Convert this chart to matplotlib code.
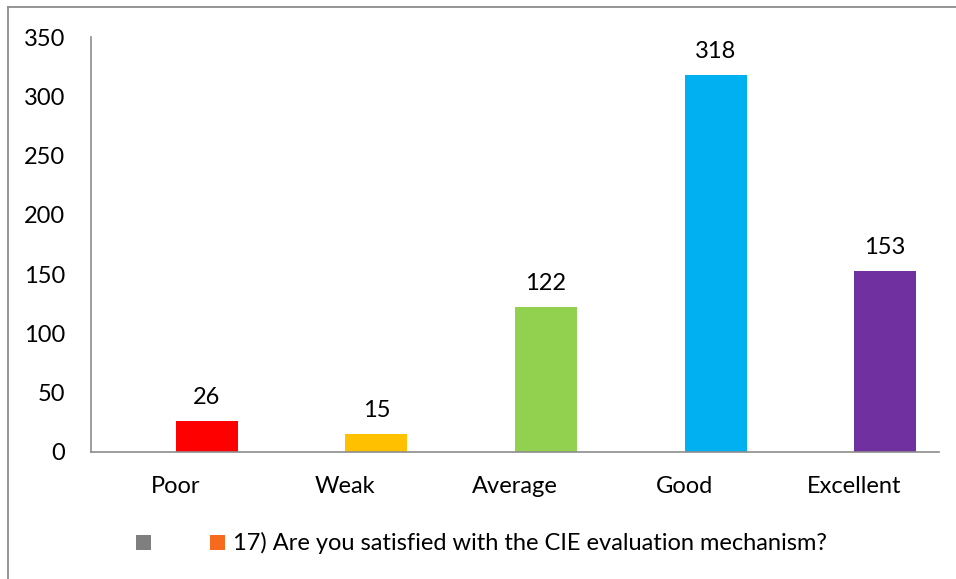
import matplotlib
matplotlib.use("Agg")
import matplotlib.pyplot as plt
from matplotlib.patches import Rectangle
from matplotlib.lines import Line2D

categories = ["Poor", "Weak", "Average", "Good", "Excellent"]
values = [26, 15, 122, 318, 153]
bar_colors = ["#FF0000", "#FFC000", "#92D050", "#00B0F0", "#7030A0"]
series_name = "17) Are you satisfied with the CIE evaluation mechanism?"
yticks = [0, 50, 100, 150, 200, 250, 300, 350]

W, H = 956, 579
plt.rcParams['font.family'] = ['Lato', 'DejaVu Sans']
FS = 17

fig = plt.figure(figsize=(W / 100, H / 100), dpi=100)
ax = fig.add_axes([91 / W, (H - 452) / H, (939 - 91) / W, (452 - 37) / H])

xs = list(range(len(categories)))
bw = 62 / 169.6
bars = ax.bar(xs, values, width=bw, align='edge', color=bar_colors, zorder=2)
for x, v in zip(xs, values):
    ax.annotate(str(v), (x + bw / 2, v), xytext=(0, 12.2), textcoords='offset points',
                ha='center', va='baseline', fontsize=FS, color='black')

ax.set_xlim(-0.5, len(categories) - 0.5)
ax.set_ylim(0, 350)
ax.set_yticks(yticks)
ax.set_xticks(xs)
ax.set_xticklabels(categories)
ax.tick_params(axis='both', length=0, labelsize=FS, colors='black')
ax.tick_params(axis='y', pad=18.5)
ax.tick_params(axis='x', pad=17)
for s in ['top', 'right']:
    ax.spines[s].set_visible(False)
for s in ['left', 'bottom']:
    ax.spines[s].set_color('#8C8C8C')
    ax.spines[s].set_linewidth(1.2)

# legend
def fx(p):
    return p / W
def fy(p):
    return (H - p) / H

fig.patches.append(Rectangle((fx(136), fy(550)), 15 / W, 15 / H, transform=fig.transFigure,
                             facecolor='#7F7F7F', edgecolor='none'))
fig.patches.append(Rectangle((fx(210), fy(550)), 15 / W, 15 / H, transform=fig.transFigure,
                             facecolor='#F7691C', edgecolor='none'))
fig.text(fx(233), fy(543), series_name, ha='left', va='center', fontsize=FS, color='black')

# outer border (cropped)
fig.lines.append(Line2D([fx(8), 1.0], [fy(7), fy(7)], transform=fig.transFigure, color='#8C8C8C', lw=1.3))
fig.lines.append(Line2D([fx(8), fx(8)], [fy(7), 0.0], transform=fig.transFigure, color='#8C8C8C', lw=1.3))

fig.savefig("out.png", dpi=100, facecolor='white')
